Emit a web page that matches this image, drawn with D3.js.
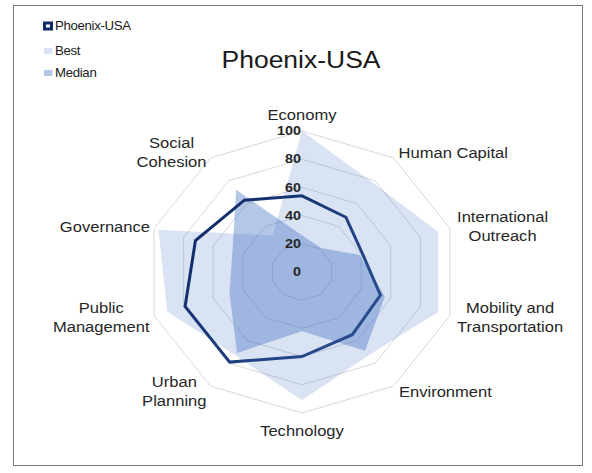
<!DOCTYPE html>
<html>
<head>
<meta charset="utf-8">
<script src="https://cdn.jsdelivr.net/npm/d3@7/dist/d3.min.js"></script>
<style>
  html, body { margin: 0; padding: 0; background: #ffffff; }
  svg { display: block; font-family: "Liberation Sans", Arial, sans-serif; }
</style>
</head>
<body>
<svg id="chart" width="592" height="473"></svg>
<script>
// Radar categories, clockwise from the top
const categories = [
  "Economy", "Human Capital", "International Outreach", "Mobility and Transportation",
  "Environment", "Technology", "Urban Planning", "Public Management",
  "Governance", "Social Cohesion"
];
// Line breaks used for the category labels
const categoryLines = [
  ["Economy"], ["Human Capital"], ["International", "Outreach"], ["Mobility and", "Transportation"],
  ["Environment"], ["Technology"], ["Urban", "Planning"], ["Public", "Management"],
  ["Governance"], ["Social", "Cohesion"]
];
const seriesNames = ["Phoenix-USA", "Best", "Median"];
const phoenixValues = [54, 48, 41, 53, 55, 60, 79, 79, 72, 63];
const bestValues    = [100, 78, 92, 92, 73, 91, 73, 91, 97, 32];
const medianValues  = [26, 21, 39, 56, 69, 42, 71, 49, 47, 72];
const tickValues = [0, 20, 40, 60, 80, 100];
const titleText = "Phoenix-USA";

const svg = d3.select("#chart");
const W = 592, H = 473;
const cx = 302, cy = 272;
const stretch = 1.104;           // horizontal aspect of the plot
const n = categories.length;

const rX = d3.scaleLinear().domain([0, 100]).range([0, 155.6]);
const rY = d3.scaleLinear().domain([0, 100]).range([0, 141]);
const angle = d3.scaleLinear().domain([0, n]).range([0, 2 * Math.PI]);

const px = (v, i) => cx + rX(v) * Math.sin(angle(i));
const py = (v, i) => cy - rY(v) * Math.cos(angle(i));

const radarLine = d3.line()
  .x((d, i) => px(d, i))
  .y((d, i) => py(d, i))
  .curve(d3.curveLinearClosed);

// background + frame
svg.append("rect").attr("x", 0).attr("y", 0).attr("width", W).attr("height", H).attr("fill", "#ffffff");
svg.append("rect").attr("x", 13.5).attr("y", 5.5).attr("width", 569).attr("height", 460)
  .attr("fill", "none").attr("stroke", "#7a7a7a").attr("stroke-width", 1);

const defs = svg.append("defs");
const grad = defs.append("linearGradient").attr("id", "lineGrad")
  .attr("gradientUnits", "userSpaceOnUse")
  .attr("x1", 180).attr("y1", 190).attr("x2", 390).attr("y2", 360);
grad.append("stop").attr("offset", "0%").attr("stop-color", "#0a2462");
grad.append("stop").attr("offset", "100%").attr("stop-color", "#2f5597");

// grid rings
const rings = tickValues.filter(t => t > 0);
svg.append("g").selectAll("path").data(rings).join("path")
  .attr("d", t => radarLine(d3.range(n).map(() => t)))
  .attr("fill", "none").attr("stroke", "#d9d9d9").attr("stroke-width", 1);

// series fills
svg.append("path").attr("d", radarLine(bestValues))
  .attr("fill", "#4472c4").attr("fill-opacity", 0.2);
svg.append("path").attr("d", radarLine(medianValues))
  .attr("fill", "#4472c4").attr("fill-opacity", 0.4);

// Phoenix line
svg.append("path").attr("d", radarLine(phoenixValues))
  .attr("fill", "none").attr("stroke", "url(#lineGrad)").attr("stroke-width", 3)
  .attr("stroke-linejoin", "miter");

// tick labels on the vertical axis
svg.append("g").selectAll("text").data(tickValues).join("text")
  .attr("transform", t => `translate(${cx - 1},${cy - rY(t)}) scale(${stretch},1)`)
  .attr("text-anchor", "end").attr("dominant-baseline", "central")
  .attr("font-size", 13).attr("font-weight", "bold").attr("fill", "#262626")
  .text(t => t);

// category labels
const lineH = 19;
const labelG = svg.append("g");
categoryLines.forEach((lines, i) => {
  const a = angle(i);
  const vx = px(100, i), vy = py(100, i);
  const s = Math.sin(a), c = Math.cos(a);
  const side = Math.abs(s) < 0.01 ? "mid" : (s > 0 ? "right" : "left");
  const g = labelG.append("g");
  const t = g.append("text").attr("font-size", 15).attr("fill", "#262626").attr("text-anchor", "middle");
  lines.forEach((l, k) => {
    t.append("tspan").attr("x", 0).attr("y", (k - (lines.length - 1) / 2) * lineH)
      .attr("dy", "0.35em").text(l);
  });
  const w = t.node().getBBox().width * stretch;
  const nearHorizontal = Math.abs(s) > 0.9;
  const dy = nearHorizontal ? (c > 0 ? -2 : 2) : (c > 0 ? -5.5 : 5.5);
  let bx, by;
  if (side === "mid") {
    bx = vx;
    by = c > 0 ? vy - 16 : vy + 18;
  } else if (side === "right") {
    bx = vx + (nearHorizontal ? 7 : 5) + w / 2;
    by = vy + dy;
  } else {
    bx = vx - 4 - w / 2;
    by = vy + dy;
  }
  g.attr("transform", `translate(${bx},${by}) scale(${stretch},1)`);
});

// title
svg.append("text")
  .attr("transform", `translate(301,68) scale(${stretch},1)`)
  .attr("text-anchor", "middle").attr("font-size", 24).attr("fill", "#1a1a1a")
  .text(titleText);

// legend
const legend = svg.append("g");
const legY = [26, 51, 73];
// Phoenix marker: dark square with light centre
legend.append("rect").attr("x", 43).attr("y", legY[0] - 4.5).attr("width", 10).attr("height", 9)
  .attr("fill", "#0e2a66");
legend.append("rect").attr("x", 46).attr("y", legY[0] - 1.5).attr("width", 4).attr("height", 3)
  .attr("fill", "#ffffff");
legend.append("rect").attr("x", 44).attr("y", legY[1] - 3).attr("width", 8.5).attr("height", 6)
  .attr("fill", "#4472c4").attr("fill-opacity", 0.2);
legend.append("rect").attr("x", 44).attr("y", legY[2] - 3).attr("width", 8.5).attr("height", 6)
  .attr("fill", "#4472c4").attr("fill-opacity", 0.4);
legend.selectAll("text.leg").data(seriesNames).join("text")
  .attr("class", "leg")
  .attr("transform", (d, i) => `translate(55,${legY[i]}) scale(${stretch},1)`)
  .attr("dominant-baseline", "central")
  .attr("font-size", 12).attr("fill", "#1a1a1a").attr("letter-spacing", -0.3)
  .text(d => d);
</script>
</body>
</html>
